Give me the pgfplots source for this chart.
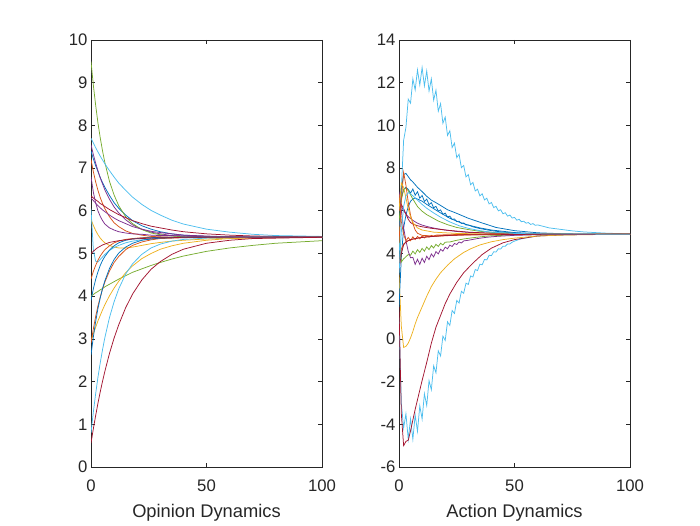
\documentclass[border=0pt]{standalone}
\usepackage{fontspec}
\setmainfont{Liberation Sans}
\usepackage{pgfplots}
\usepackage{pgfplotstable}
\pgfplotsset{compat=1.18}
\definecolor{mB}{RGB}{0,114,189}
\definecolor{mO}{RGB}{217,83,25}
\definecolor{mY}{RGB}{237,177,32}
\definecolor{mP}{RGB}{126,47,142}
\definecolor{mG}{RGB}{119,172,48}
\definecolor{mC}{RGB}{77,190,238}
\definecolor{mR}{RGB}{162,20,47}
\definecolor{axg}{RGB}{38,38,38}
\pgfplotstableread{
t A B C D E F G H I J K L M N O P Q R S
0 9.50 7.70 7.55 7.40 7.20 6.80 6.35 6.30 6.05 5.80 4.40 4.00 3.90 2.95 2.90 2.62 0.80 0.56 5.00
1 8.95 7.59 7.32 7.22 6.92 6.44 6.30 6.24 5.10 5.66 4.58 4.04 4.17 3.12 3.23 3.04 1.28 0.89 5.05
2 8.48 7.48 7.12 7.06 6.68 6.19 6.26 6.18 4.82 5.54 4.72 4.08 4.39 3.27 3.52 3.40 1.71 1.20 5.10
3 8.06 7.38 6.94 6.92 6.48 6.00 6.22 6.12 4.80 5.44 4.84 4.11 4.57 3.42 3.77 3.71 2.10 1.49 5.14
4 7.71 7.28 6.77 6.78 6.31 5.87 6.17 6.07 4.86 5.36 4.94 4.15 4.72 3.55 3.98 3.96 2.44 1.76 5.17
5 7.40 7.19 6.63 6.66 6.17 5.77 6.14 6.02 4.92 5.30 5.02 4.18 4.84 3.68 4.17 4.18 2.75 2.01 5.20
6 7.13 7.10 6.49 6.55 6.05 5.69 6.10 5.98 4.98 5.25 5.09 4.22 4.93 3.80 4.33 4.36 3.03 2.24 5.22
8 6.69 6.94 6.27 6.36 5.86 5.60 6.03 5.90 5.07 5.19 5.18 4.28 5.08 4.01 4.59 4.65 3.50 2.66 5.26
10 6.37 6.79 6.09 6.19 5.72 5.55 5.97 5.83 5.14 5.15 5.25 4.34 5.18 4.19 4.79 4.86 3.87 3.02 5.28
12 6.12 6.65 5.95 6.06 5.63 5.51 5.91 5.77 5.19 5.13 5.29 4.40 5.25 4.35 4.93 5.01 4.17 3.33 5.30
15 5.86 6.48 5.79 5.90 5.53 5.48 5.84 5.70 5.25 5.13 5.33 4.48 5.31 4.55 5.09 5.15 4.52 3.73 5.32
18 5.70 6.32 5.67 5.77 5.47 5.46 5.77 5.63 5.29 5.15 5.35 4.56 5.34 4.71 5.19 5.24 4.76 4.05 5.34
22 5.56 6.15 5.57 5.65 5.43 5.45 5.70 5.57 5.32 5.19 5.37 4.64 5.36 4.88 5.27 5.31 4.98 4.38 5.35
26 5.48 6.01 5.50 5.57 5.40 5.43 5.64 5.52 5.34 5.23 5.38 4.72 5.37 5.00 5.32 5.34 5.13 4.63 5.36
30 5.44 5.90 5.46 5.51 5.39 5.42 5.60 5.49 5.36 5.26 5.38 4.79 5.38 5.10 5.35 5.36 5.22 4.81 5.37
35 5.41 5.78 5.42 5.46 5.38 5.42 5.55 5.46 5.37 5.29 5.38 4.87 5.38 5.18 5.36 5.37 5.29 4.98 5.37
40 5.39 5.69 5.41 5.43 5.38 5.41 5.51 5.43 5.37 5.31 5.38 4.94 5.38 5.24 5.37 5.38 5.33 5.10 5.38
50 5.38 5.57 5.39 5.40 5.38 5.40 5.46 5.41 5.38 5.34 5.38 5.05 5.38 5.31 5.38 5.38 5.36 5.24 5.38
60 5.38 5.50 5.38 5.39 5.38 5.39 5.43 5.39 5.38 5.36 5.38 5.13 5.38 5.35 5.38 5.38 5.37 5.31 5.38
70 5.38 5.45 5.38 5.38 5.38 5.38 5.41 5.39 5.38 5.37 5.38 5.19 5.38 5.36 5.38 5.38 5.38 5.35 5.38
80 5.38 5.42 5.38 5.38 5.38 5.38 5.40 5.38 5.38 5.38 5.38 5.24 5.38 5.37 5.38 5.38 5.38 5.36 5.38
100 5.38 5.40 5.38 5.38 5.38 5.38 5.39 5.38 5.38 5.38 5.38 5.30 5.38 5.38 5.38 5.38 5.38 5.38 5.38
}\opinion
\pgfplotsset{mstyle/.style={
  scale only axis, width=231pt, height=427pt,
  xmin=0, xmax=100, xtick={0,50,100},
  axis line style={axg, line width=0.6pt},
  tick style={axg, line width=0.6pt},
  major tick length=4.3pt, tick align=inside,
  xtick pos=both, ytick pos=both,
  xticklabel pos=lower, yticklabel pos=left,
  /pgf/number format/assume math mode=true,
  tick label style={font=\fontsize{16.7}{20}\selectfont, text=axg},
  x tick label style={yshift=-9pt},
  xlabel style={font=\fontsize{18.3}{22}\selectfont, text=axg, yshift=-6pt},
  every axis plot/.append style={line width=0.75pt, no marks},
}}
\begin{document}
\begin{tikzpicture}[x=1pt,y=1pt]
\useasboundingbox (0,0) rectangle (700,525);
\begin{axis}[mstyle, at={(91pt,58pt)}, anchor=south west,
  ymin=0, ymax=10, ytick={0,1,...,10}, xlabel={Opinion Dynamics}]
\addplot[mB] table[x=t,y=D]{\opinion};
\addplot[mO] table[x=t,y=E]{\opinion};
\addplot[mY] table[x=t,y=J]{\opinion};
\addplot[mP] table[x=t,y=C]{\opinion};
\addplot[mG] table[x=t,y=A]{\opinion};
\addplot[mC] table[x=t,y=B]{\opinion};
\addplot[mR] table[x=t,y=G]{\opinion};
\addplot[mP] table[x=t,y=F]{\opinion};
\addplot[mP] table[x=t,y=H]{\opinion};
\addplot[mC] table[x=t,y=I]{\opinion};
\addplot[mO] table[x=t,y=K]{\opinion};
\addplot[mG] table[x=t,y=L]{\opinion};
\addplot[mB] table[x=t,y=M]{\opinion};
\addplot[mY] table[x=t,y=N]{\opinion};
\addplot[mO] table[x=t,y=O]{\opinion};
\addplot[mB] table[x=t,y=P]{\opinion};
\addplot[mC] table[x=t,y=Q]{\opinion};
\addplot[mR] table[x=t,y=R]{\opinion};
\addplot[mR] table[x=t,y=S]{\opinion};
\end{axis}
\begin{axis}[mstyle, at={(399pt,58pt)}, anchor=south west,
  ymin=-6, ymax=14, ytick={-6,-4,...,14}, xlabel={Action Dynamics}]
% big cyan (upper)
\addplot[mC] coordinates {(0,3.6)(1,7.0)(2,9.3)(3,9.91)(4,11.23)(5,11.04)(6,12.18)(7,11.66)(8,12.60)(9,11.89)(10,12.71)(11,11.85)(12,12.55)(13,11.61)(14,12.18)(15,11.18)(16,11.65)(17,10.66)(18,11.02)(19,10.10)(20,10.39)(21,9.53)(22,9.75)(23,8.96)(24,9.17)(25,8.49)(26,8.65)(27,8.02)(28,8.12)(29,7.59)(30,7.70)(31,7.22)(32,7.33)(33,6.93)(34,7.01)(35,6.70)(36,6.80)(37,6.51)(38,6.59)(39,6.32)(40,6.39)(41,6.15)(42,6.21)(43,6.00)(44,6.05)(45,5.86)(46,5.91)(47,5.75)(48,5.80)(49,5.66)(50,5.69)(51,5.56)(52,5.60)(53,5.49)(54,5.51)(55,5.42)(56,5.45)(57,5.36)(58,5.40)(59,5.32)(60,5.34)(65,5.20)(70,5.13)(75,5.06)(80,5.01)(90,4.95)(100,4.92)};
% big cyan (lower)
\addplot[mC] coordinates {(0,1.0)(1,-3.0)(2,-4.17)(3,-3.51)(4,-4.70)(5,-3.75)(6,-4.70)(7,-3.56)(8,-4.33)(9,-3.13)(10,-3.75)(11,-2.57)(12,-3.12)(13,-1.95)(14,-2.38)(15,-1.26)(16,-1.59)(17,-0.56)(18,-0.80)(19,0.13)(20,-0.07)(21,0.80)(22,0.63)(23,1.33)(24,1.19)(25,1.80)(26,1.68)(27,2.23)(28,2.14)(29,2.61)(30,2.55)(31,2.95)(32,2.90)(33,3.25)(34,3.20)(35,3.50)(36,3.47)(37,3.72)(38,3.70)(39,3.92)(40,3.90)(41,4.08)(42,4.07)(43,4.22)(44,4.21)(45,4.34)(46,4.34)(47,4.45)(48,4.45)(49,4.53)(50,4.58)(52,4.66)(54,4.71)(56,4.75)(58,4.79)(60,4.82)(65,4.85)(70,4.87)(80,4.89)(100,4.9)};
\addplot[mR] coordinates {(0,1.5)(1,-3.5)(2,-5.0)(3,-4.8)(4,-4.75)(5,-4.3)(6,-3.8)(7,-3.3)(8,-2.85)(9,-2.4)(10,-1.95)(12,-1.1)(14,-0.2)(16,0.55)(18,1.1)(20,1.65)(22,2.1)(25,2.65)(28,3.1)(32,3.55)(36,3.95)(40,4.25)(45,4.5)(50,4.65)(60,4.82)(70,4.87)(80,4.89)(100,4.9)};
\addplot[mY] coordinates {(0,3.0)(1,0.6)(2,-0.4)(3,-0.35)(4,-0.2)(5,0.05)(6,0.35)(7,0.7)(8,1.0)(10,1.5)(12,2.0)(14,2.45)(16,2.8)(18,3.1)(21,3.45)(24,3.75)(28,4.05)(31,4.22)(35,4.4)(40,4.55)(45,4.65)(50,4.72)(60,4.82)(70,4.86)(80,4.88)(100,4.9)};
\addplot[mB] coordinates {(0,5.0)(1,7.0)(2,7.7)(3,7.75)(4,7.6)(5,7.45)(6,7.35)(8,7.1)(10,6.9)(12,6.68)(14,6.5)(16,6.38)(18,6.25)(21,6.05)(25,5.88)(30,5.65)(36,5.43)(42,5.22)(50,5.07)(60,4.97)(70,4.93)(80,4.91)(100,4.9)};
\addplot[mB] coordinates {(0,6.0)(1,6.6)(2,7.0)(3,7.1)(4,7.0)(5,6.83)(6,7.02)(7,6.73)(8,6.89)(9,6.59)(10,6.72)(11,6.44)(12,6.55)(13,6.29)(14,6.38)(15,6.14)(16,6.21)(17,5.99)(18,6.04)(19,5.84)(20,5.89)(21,5.71)(22,5.75)(23,5.60)(24,5.62)(25,5.49)(26,5.51)(27,5.41)(28,5.43)(29,5.33)(30,5.34)(32,5.25)(35,5.17)(40,5.07)(45,5.0)(50,4.96)(60,4.92)(80,4.9)(100,4.9)};
\addplot[mB] coordinates {(0,1.5)(1,3.8)(2,5.2)(3,5.8)(4,6.2)(5,6.45)(6,6.55)(7,6.6)(8,6.55)(10,6.45)(12,6.3)(15,6.1)(18,5.9)(22,5.65)(26,5.47)(30,5.33)(35,5.2)(40,5.1)(50,4.98)(60,4.93)(80,4.9)(100,4.9)};
\addplot[mG] coordinates {(0,5.5)(1,6.5)(2,7.0)(3,7.05)(4,6.95)(6,6.55)(8,6.2)(10,5.98)(12,5.82)(14,5.7)(17,5.52)(21,5.35)(25,5.22)(30,5.12)(35,5.04)(40,4.99)(50,4.94)(60,4.92)(80,4.9)(100,4.9)};
\addplot[mG] coordinates {(0,5.3)(1,3.6)(2,3.75)(3,3.85)(4,3.95)(5,3.92)(6,4.11)(7,3.98)(8,4.18)(9,4.05)(10,4.24)(11,4.11)(12,4.31)(13,4.18)(14,4.37)(15,4.26)(16,4.43)(17,4.33)(18,4.48)(19,4.40)(20,4.53)(22,4.54)(25,4.62)(28,4.68)(32,4.74)(36,4.79)(40,4.83)(50,4.87)(60,4.89)(100,4.9)};
\addplot[mP] coordinates {(0,6.9)(1,6.0)(2,5.2)(3,4.6)(4,4.1)(5,3.8)(6,3.82)(7,3.49)(8,3.73)(9,3.49)(10,3.78)(11,3.58)(12,3.87)(13,3.71)(14,3.98)(15,3.84)(16,4.09)(17,3.98)(18,4.20)(19,4.11)(20,4.30)(21,4.22)(22,4.39)(23,4.33)(24,4.47)(25,4.42)(26,4.54)(27,4.49)(28,4.59)(30,4.62)(34,4.70)(38,4.76)(42,4.80)(50,4.85)(60,4.88)(100,4.9)};
\addplot[mP] coordinates {(0,6.4)(1,6.2)(2,6.0)(3,5.85)(4,5.72)(6,5.55)(8,5.42)(10,5.33)(13,5.24)(16,5.17)(20,5.1)(25,5.03)(30,4.99)(40,4.94)(50,4.92)(70,4.9)(100,4.9)};
\addplot[mR] coordinates {(0,6.0)(1,6.3)(2,6.1)(3,5.85)(4,5.6)(5,5.45)(6,5.38)(8,5.3)(10,5.25)(14,5.18)(20,5.1)(30,5.0)(40,4.95)(60,4.91)(100,4.9)};
\addplot[mO] coordinates {(0,4.5)(1,6.5)(2,7.8)(3,7.2)(4,6.4)(5,5.8)(6,5.4)(7,5.1)(8,4.95)(10,4.85)(14,4.82)(20,4.85)(30,4.88)(50,4.9)(100,4.9)};
\addplot[mO] coordinates {(0,3.5)(1,4.2)(2,4.45)(4,4.6)(6,4.68)(10,4.75)(15,4.8)(25,4.86)(40,4.89)(100,4.9)};
\addplot[mO] coordinates {(0,6.8)(1,5.5)(2,4.9)(3,4.6)(4,4.75)(5,4.6)(6,4.78)(7,4.65)(8,4.8)(9,4.69)(10,4.82)(11,4.73)(12,4.84)(13,4.77)(14,4.85)(15,4.8)(16,4.86)(18,4.87)(22,4.88)(30,4.9)(100,4.9)};
\addplot[mY] coordinates {(0,6.0)(1,7.3)(2,7.1)(3,6.6)(4,6.1)(5,5.7)(6,5.45)(8,5.2)(10,5.1)(15,5.0)(25,4.94)(40,4.91)(100,4.9)};
\addplot[mR] coordinates {(0,3.2)(1,4.0)(2,4.4)(3,4.55)(5,4.65)(8,4.72)(12,4.78)(20,4.84)(30,4.88)(100,4.9)};
\addplot[mC] coordinates {(0,3.0)(1,5.0)(2,6.2)(3,6.7)(4,6.85)(5,6.8)(6,6.7)(8,6.5)(10,6.3)(12,6.12)(15,5.9)(18,5.7)(22,5.48)(26,5.3)(30,5.18)(35,5.07)(40,5.0)(50,4.94)(60,4.92)(100,4.9)};
\end{axis}
\end{tikzpicture}
\end{document}
